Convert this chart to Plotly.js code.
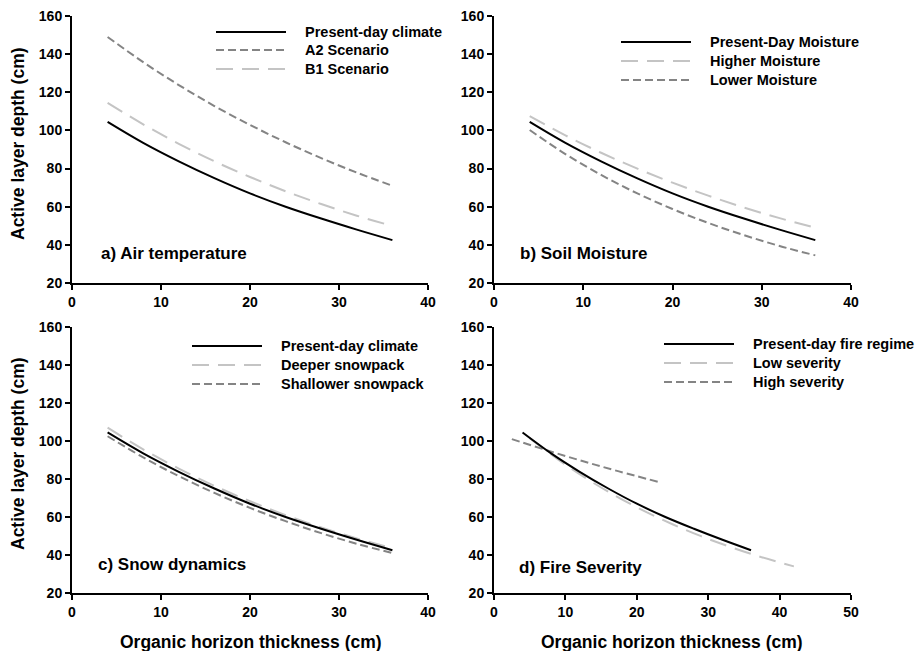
<!DOCTYPE html>
<html>
<head>
<meta charset="utf-8">
<script src="https://cdn.plot.ly/plotly-3.0.1.min.js"></script>
<style>html,body{margin:0;padding:0;background:#fff;}#chart{width:917px;height:651px;}</style>
</head>
<body>
<div id="chart"></div>
<script>
// ---------- data ----------
const xPresent = [4, 8, 12, 16, 20, 24, 28, 32, 36];
const yPresent = [104.5, 93.5, 83.8, 75.0, 67.0, 60.0, 53.8, 48.0, 42.5];

// a) Air temperature
const yA2 = [149.0, 135.8, 123.8, 112.8, 102.9, 93.8, 85.5, 77.9, 71.0];
const yB1 = [114.5, 103.2, 93.0, 83.8, 75.6, 68.1, 61.4, 55.3, 49.9];

// b) Soil moisture
const yHigherMoist = [107.5, 97.4, 88.3, 80.1, 72.6, 65.8, 59.6, 54.0, 49.0];
const yLowerMoist = [100.2, 87.6, 76.7, 67.1, 58.8, 51.5, 45.1, 39.4, 34.5];

// c) Snow dynamics
const yDeeperSnow = [107.0, 95.6, 85.5, 76.4, 68.3, 61.0, 54.5, 48.7, 43.5];
const yShallowSnow = [102.5, 91.4, 81.5, 72.7, 64.8, 57.8, 51.5, 45.9, 41.0];

// d) Fire severity
const xLowSev = [5, 9, 13, 17, 21, 25, 29, 33, 37, 42];
const yLowSev = [101.5, 90.2, 80.1, 71.2, 63.2, 56.2, 49.9, 44.4, 39.4, 34.0];
const xHighSev = [2.5, 7.5, 12.5, 17.5, 23];
const yHighSev = [101.0, 95.0, 89.3, 84.0, 78.5];

const legendA = ["Present-day climate", "A2 Scenario", "B1 Scenario"];
const legendB = ["Present-Day Moisture", "Higher Moisture", "Lower Moisture"];
const legendC = ["Present-day climate", "Deeper snowpack", "Shallower snowpack"];
const legendD = ["Present-day fire regime", "Low severity", "High severity"];
const panelLabels = ["a) Air temperature", "b) Soil Moisture", "c) Snow dynamics", "d) Fire Severity"];
const yTitle = "Active layer depth (cm)";
const xTitle = "Organic horizon thickness (cm)";
const yTicks = [20, 40, 60, 80, 100, 120, 140, 160];
const xTicks40 = [0, 10, 20, 30, 40];
const xTicks50 = [0, 10, 20, 30, 40, 50];

// ---------- styles ----------
const W = 917, H = 651;
const FAM = "Liberation Sans, Arial, sans-serif";
const SOLID = {color: "#000000", width: 2, dash: "solid"};
const DARK = {color: "#848484", width: 2, dash: "8px,4px"};
const LIGHT = {color: "#c4c4c4", width: 2, dash: "17px,9px"};
function ln(style) { return Object.assign({shape: "spline", smoothing: 1}, style); }
function tr(x, y, style, xa, ya, name) {
  return {x: x, y: y, mode: "lines", line: ln(style), xaxis: xa, yaxis: ya, name: name, showlegend: false, hoverinfo: "skip"};
}

const traces = [
  tr(xPresent, yPresent, SOLID, "x", "y", legendA[0]),
  tr(xPresent, yA2, DARK, "x", "y", legendA[1]),
  tr(xPresent, yB1, LIGHT, "x", "y", legendA[2]),
  tr(xPresent, yPresent, SOLID, "x2", "y2", legendB[0]),
  tr(xPresent, yHigherMoist, LIGHT, "x2", "y2", legendB[1]),
  tr(xPresent, yLowerMoist, DARK, "x2", "y2", legendB[2]),
  tr(xPresent, yDeeperSnow, LIGHT, "x3", "y3", legendC[1]),
  tr(xPresent, yShallowSnow, DARK, "x3", "y3", legendC[2]),
  tr(xPresent, yPresent, SOLID, "x3", "y3", legendC[0]),
  tr(xLowSev, yLowSev, LIGHT, "x4", "y4", legendD[1]),
  tr(xHighSev, yHighSev, DARK, "x4", "y4", legendD[2]),
  tr(xPresent, yPresent, SOLID, "x4", "y4", legendD[0])
];

const px = v => v / W;
const py = v => 1 - v / H;
const tickFont = {family: FAM, size: 14, color: "#000", weight: "bold"};
function xax(dom, range, ticks, anchor) {
  return {domain: dom, range: range, tickvals: ticks, ticktext: ticks.map(String), anchor: anchor,
    showline: true, linecolor: "#000", linewidth: 2, ticks: "outside", ticklen: 5, tickwidth: 2, tickcolor: "#000",
    showgrid: false, zeroline: false, tickfont: tickFont, fixedrange: true};
}
function yax(dom, anchor) {
  return {domain: dom, range: [20, 160], tickvals: yTicks, ticktext: yTicks.map(String), anchor: anchor,
    showline: true, linecolor: "#000", linewidth: 2, ticks: "outside", ticklen: 5, tickwidth: 2, tickcolor: "#000",
    showgrid: false, zeroline: false, tickfont: tickFont, fixedrange: true};
}
const colL = [px(72), px(428)], colR = [px(494), px(851)];
const rowT = [py(283), py(16)], rowB = [py(593), py(327)];

const shapes = [];
const annotations = [];
function addLegend(labels, styles, x0, x1, tx, ys) {
  labels.forEach((lab, i) => {
    shapes.push({type: "line", xref: "paper", yref: "paper", x0: px(x0), x1: px(x1), y0: py(ys[i]), y1: py(ys[i]),
      line: {color: styles[i].color, width: 2, dash: styles[i].dash}});
    annotations.push({xref: "paper", yref: "paper", x: px(tx), y: py(ys[i]), xanchor: "left", yanchor: "middle",
      text: lab, showarrow: false, font: {family: FAM, size: 14.5, color: "#000", weight: "bold"}});
  });
}
addLegend(legendA, [SOLID, DARK, LIGHT], 216, 286, 303, [32, 50, 69]);
addLegend(legendB, [SOLID, LIGHT, DARK], 621, 691, 708, [42, 61, 80]);
addLegend(legendC, [SOLID, LIGHT, DARK], 192, 262, 279, [346, 365, 384]);
addLegend(legendD, [SOLID, LIGHT, DARK], 664, 734, 751, [344, 363, 382]);

const panelPos = [[99, 253], [518, 253], [96, 564], [517, 567]];
panelLabels.forEach((t, i) => annotations.push({xref: "paper", yref: "paper", x: px(panelPos[i][0]), y: py(panelPos[i][1]),
  xanchor: "left", yanchor: "middle", text: t, showarrow: false,
  font: {family: FAM, size: 17, color: "#000", weight: "bold"}}));

const titleFont = {family: FAM, size: 17.5, color: "#000", weight: "bold"};
[[144], [454]].forEach(p => annotations.push({xref: "paper", yref: "paper", x: px(18), y: py(p[0]), textangle: -90,
  xanchor: "center", yanchor: "middle", text: yTitle, showarrow: false, font: titleFont}));
[[251], [672]].forEach(p => annotations.push({xref: "paper", yref: "paper", x: px(p[0]), y: py(642),
  xanchor: "center", yanchor: "middle", text: xTitle, showarrow: false, font: titleFont}));

const layout = {
  width: W, height: H, margin: {l: 0, r: 0, t: 0, b: 0}, paper_bgcolor: "#fff", plot_bgcolor: "#fff",
  showlegend: false,
  font: {family: FAM, color: "#000"},
  xaxis: xax(colL, [0, 40], xTicks40, "y"), yaxis: yax(rowT, "x"),
  xaxis2: xax(colR, [0, 40], xTicks40, "y2"), yaxis2: yax(rowT, "x2"),
  xaxis3: xax(colL, [0, 40], xTicks40, "y3"), yaxis3: yax(rowB, "x3"),
  xaxis4: xax(colR, [0, 50], xTicks50, "y4"), yaxis4: yax(rowB, "x4"),
  shapes: shapes, annotations: annotations
};
Plotly.newPlot("chart", traces, layout, {displayModeBar: false, staticPlot: true});
</script>
</body>
</html>
